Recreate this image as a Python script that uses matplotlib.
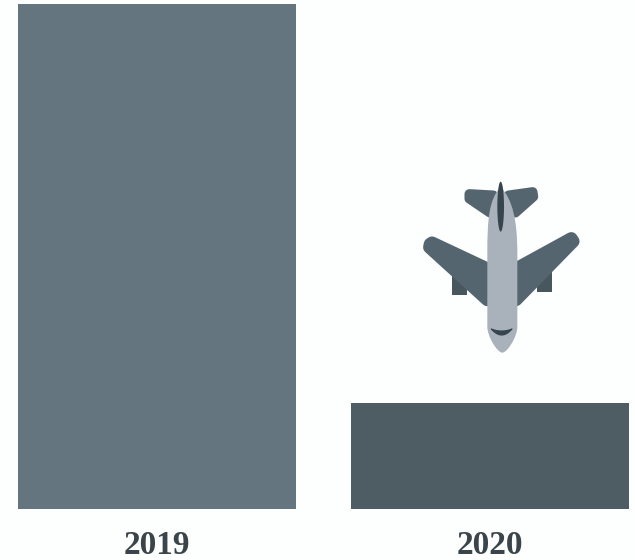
import matplotlib
matplotlib.use("Agg")
import matplotlib.pyplot as plt
from matplotlib.patches import Polygon, PathPatch
from matplotlib.path import Path
import numpy as np

years = ["2019", "2020"]
values = [100, 21]
bar_colors = ["#65757F", "#4E5C63"]

W, H = 635, 560
fig = plt.figure(figsize=(W / 100, H / 100), dpi=100, facecolor="#FDFEFE")

# bar axes
ax = fig.add_axes([0, (H - 509) / H, 1, 505 / H])
ax.set_facecolor("none")
x_pos = [157, 490]
ax.bar(x_pos, values, width=278, color=bar_colors, edgecolor="none")
ax.set_xlim(0, W)
ax.set_ylim(0, 100)
ax.set_xticks(x_pos)
ax.set_xticklabels(years, family="Liberation Serif", fontweight="bold", fontsize=24, color="#3A444A")
ax.tick_params(axis="x", length=0, pad=15)
ax.set_yticks([])
for s in ax.spines.values():
    s.set_visible(False)

# plane icon, drawn on an overlay in pixel units
ov = fig.add_axes([0, 0, 1, 1])
ov.set_xlim(0, W)
ov.set_ylim(H, 0)
ov.axis("off")

def pts(zoomed):
    return [(410 + a / 3, 170 + b / 3) for a, b in zoomed]

def shape(zoomed, color, z=2, rounded=0):
    ov.add_patch(Polygon(pts(zoomed), closed=True, facecolor=color, edgecolor=color,
                         linewidth=rounded, joinstyle="round", zorder=z))

wing = "#55656F"
shape([(178, 72), (250, 76), (240, 128), (178, 86)], wing, rounded=7)
shape([(296, 76), (368, 66), (370, 80), (316, 128)], wing, rounded=7)
shape([(60, 222), (66, 218), (232, 296), (232, 390), (58, 232)], wing, rounded=9)
shape([(318, 296), (484, 205), (490, 214), (318, 390)], wing, rounded=9)
shape([(125, 300), (125, 374), (172, 374), (172, 300)], "#48565D", z=1)
shape([(380, 310), (380, 366), (427, 366), (427, 300)], "#48565D", z=1)

# fuselage
body = Path(pts([(272, 50), (236, 90), (232, 150), (232, 250), (232, 470), (232, 500),
                 (262, 548), (277, 548), (292, 548), (322, 500), (322, 470), (322, 250),
                 (322, 150), (308, 90), (272, 50), (272, 50)]),
            [Path.MOVETO, Path.CURVE4, Path.CURVE4, Path.LINETO, Path.LINETO, Path.CURVE4,
             Path.CURVE4, Path.CURVE4, Path.CURVE4, Path.CURVE4, Path.CURVE4, Path.LINETO,
             Path.CURVE4, Path.CURVE4, Path.CURVE4, Path.CLOSEPOLY])
ov.add_patch(PathPatch(body, facecolor="#A9B2BA", edgecolor="none", zorder=3))

# tail fin and cockpit window
t = np.linspace(0, np.pi, 40)
fin = [(272 - 10 * np.sin(a), 110 - 75 * np.cos(a)) for a in t] + \
      [(272 + 10 * np.sin(a), 110 + 75 * np.cos(a)) for a in t]
shape(fin, "#36444D", z=4)
xs = np.linspace(-31, 31, 30)
smile = [(275 + x, 495 - 18 * (x / 31) ** 2) for x in xs] + \
        [(275 + x, 483 - 6 * (x / 31) ** 2) for x in xs[::-1]]
shape(smile, "#36444D", z=4, rounded=0.8)

fig.savefig("out.png", dpi=100, facecolor=fig.get_facecolor())
